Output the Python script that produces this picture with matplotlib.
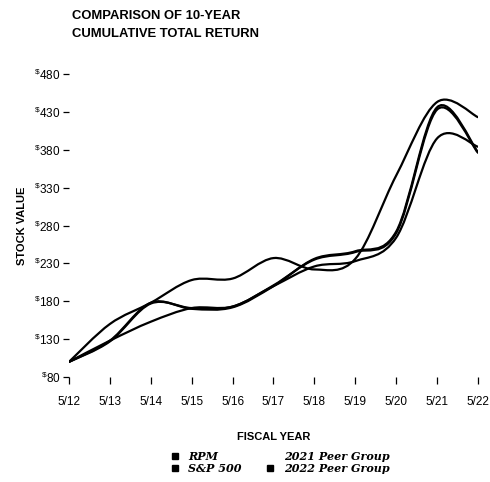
import matplotlib

matplotlib.use("Agg")
import matplotlib.pyplot as plt
from matplotlib.lines import Line2D
from matplotlib.patches import PathPatch
from matplotlib.path import Path

SANS = ["Liberation Sans", "DejaVu Sans"]
SERIF = ["DejaVu Serif"]

years = ["5/12", "5/13", "5/14", "5/15", "5/16", "5/17", "5/18", "5/19", "5/20", "5/21", "5/22"]
rpm = [100, 150, 178, 208, 210, 237, 222, 236, 346, 443, 423]
sp500 = [100, 128, 153, 171, 173, 200, 226, 233, 264, 395, 384]
peer_2021 = [100, 128, 178, 170, 172, 200, 236, 246, 272, 436, 377]
peer_2022 = [100, 127, 177, 171, 173, 201, 235, 245, 270, 433, 376]
y_ticks = [80, 130, 180, 230, 280, 330, 380, 430, 480]

plt.rcParams.update({
    "font.family": SANS,
    "mathtext.fontset": "custom",
    "mathtext.rm": "Liberation Sans",
})


def smooth_path(xs, ys):
    """Catmull-Rom curve through the points, as cubic Bezier segments."""
    pts = list(zip(xs, ys))
    ext = [pts[0]] + pts + [pts[-1]]
    verts = [pts[0]]
    codes = [Path.MOVETO]
    for i in range(1, len(ext) - 2):
        p0, p1, p2, p3 = ext[i - 1], ext[i], ext[i + 1], ext[i + 2]
        c1 = (p1[0] + (p2[0] - p0[0]) / 6, p1[1] + (p2[1] - p0[1]) / 6)
        c2 = (p2[0] - (p3[0] - p1[0]) / 6, p2[1] - (p3[1] - p1[1]) / 6)
        verts += [c1, c2, p2]
        codes += [Path.CURVE4] * 3
    return Path(verts, codes)


fig = plt.figure(figsize=(4.9, 4.82), dpi=100)
ax = fig.add_axes([0.1408, 0.2178, 0.8347, 0.6287])

x = list(range(len(years)))
for series in (sp500, peer_2021, peer_2022, rpm):
    ax.add_patch(PathPatch(smooth_path(x, series), fill=False, edgecolor="black",
                           lw=1.6, capstyle="round", joinstyle="round"))

ax.set_xlim(0, len(years) - 1)
ax.set_ylim(80, 480)
for s in ax.spines.values():
    s.set_visible(False)

ax.set_xticks(x)
ax.set_xticklabels(years, fontsize=8.5)
ax.set_yticks(y_ticks)
ax.set_yticklabels([r"$^{\$}$" + str(v) for v in y_ticks], fontsize=8.5)
ax.tick_params(axis="x", length=5, width=0.9, pad=9, color="black")
ax.tick_params(axis="y", length=4, width=0.9, pad=2, color="black")

ax.set_xlabel("FISCAL YEAR", fontsize=8, fontweight="bold", labelpad=17)
ax.set_ylabel("STOCK VALUE", fontsize=8, fontweight="bold", labelpad=5)

fig.text(0.147, 0.980, "COMPARISON OF 10-YEAR\nCUMULATIVE TOTAL RETURN",
         fontsize=9.4, fontweight="bold", va="top", ha="left", linespacing=1.72)

handles = [
    Line2D([], [], marker="s", ls="none", color="black", markersize=4),
    Line2D([], [], marker="s", ls="none", color="black", markersize=4),
    Line2D([], [], marker="s", ls="none", color="white", markersize=4),
    Line2D([], [], marker="s", ls="none", color="black", markersize=4),
]
labels = ["RPM", "S&P 500", "2021 Peer Group", "2022 Peer Group"]
fig.legend(handles, labels, ncol=2, frameon=False, loc="center",
           bbox_to_anchor=(0.572, 0.04), handlelength=0.6, handletextpad=0.9,
           columnspacing=2.3, labelspacing=0.1, borderpad=0,
           prop={"family": SERIF, "style": "italic", "weight": "bold", "size": 8})

fig.savefig("out.png", dpi=100)
